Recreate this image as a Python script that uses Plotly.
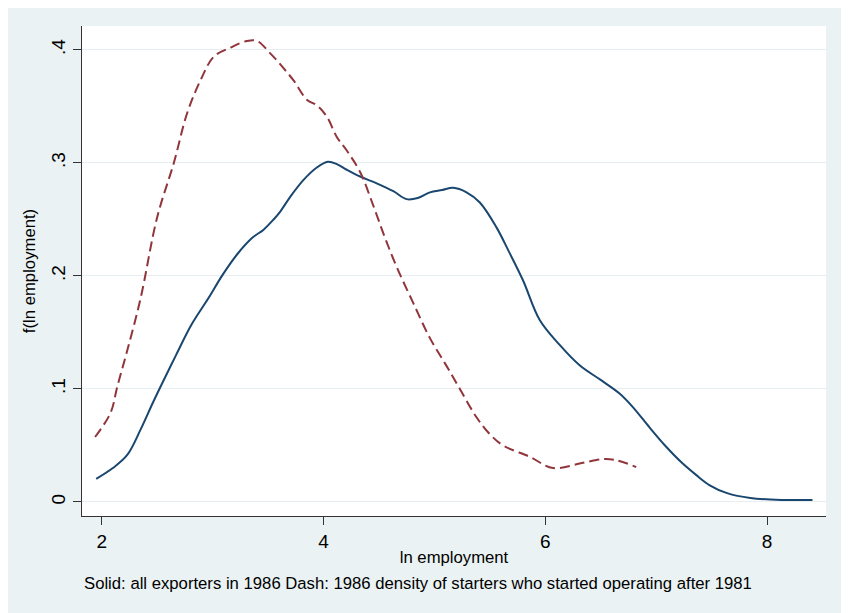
import plotly.graph_objects as go

# kernel density, all exporters in 1986 (solid)
x_all = [1.95, 2.1, 2.23, 2.35, 2.46, 2.53, 2.67, 2.81, 2.96, 3.09, 3.22, 3.36, 3.46, 3.55,
         3.61, 3.7, 3.82, 3.94, 4.04, 4.12, 4.21, 4.33, 4.48, 4.63, 4.75, 4.85, 4.96, 5.07,
         5.17, 5.29, 5.41, 5.56, 5.67, 5.8, 5.95, 6.13, 6.31, 6.5, 6.67, 6.79, 6.94, 7.08,
         7.24, 7.36, 7.48, 7.64, 7.85, 8.14, 8.41]
y_all = [0.0204, 0.03, 0.0416, 0.064, 0.0876, 0.102, 0.13, 0.157, 0.18, 0.201, 0.219, 0.234,
         0.241, 0.25, 0.257, 0.27, 0.285, 0.296, 0.301, 0.299, 0.294, 0.288, 0.282, 0.275,
         0.268, 0.269, 0.274, 0.276, 0.278, 0.274, 0.265, 0.243, 0.222, 0.196, 0.161, 0.139,
         0.121, 0.108, 0.096, 0.084, 0.066, 0.05, 0.034, 0.024, 0.015, 0.0078, 0.0035,
         0.0018, 0.0018]

# starters who started operating after 1981 (dash)
x_new = [1.94, 2.08, 2.14, 2.23, 2.35, 2.5, 2.65, 2.77, 2.89, 3.01, 3.16, 3.31, 3.4, 3.52,
         3.63, 3.73, 3.85, 3.94, 4.03, 4.12, 4.21, 4.33, 4.45, 4.55, 4.66, 4.81, 4.96,
         5.1, 5.23, 5.38, 5.5, 5.62, 5.86, 6.07, 6.31, 6.52, 6.64, 6.82]
y_new = [0.0575, 0.079, 0.102, 0.134, 0.18, 0.252, 0.3, 0.344, 0.373, 0.394, 0.402, 0.408,
         0.408, 0.397, 0.385, 0.373, 0.356, 0.351, 0.341, 0.323, 0.311, 0.292, 0.262, 0.235,
         0.208, 0.176, 0.145, 0.122, 0.1, 0.075, 0.06, 0.05, 0.04, 0.03, 0.034, 0.038,
         0.037, 0.031]

y_ticks = [0, 0.1, 0.2, 0.3, 0.4]
y_labels = ["0", ".1", ".2", ".3", ".4"]
x_ticks = [2, 4, 6, 8]

fig = go.Figure()
fig.add_trace(go.Scatter(x=x_all, y=y_all, mode="lines", line=dict(color="#1a476f", width=2, shape="spline")))
fig.add_trace(go.Scatter(x=x_new, y=y_new, mode="lines",
                         line=dict(color="#90353b", width=2, dash="10px,5px", shape="spline")))

# page body adds an 8px offset, margins account for it
fig.update_layout(
    width=849, height=613,
    margin=dict(l=74, r=31, t=18, b=105),
    paper_bgcolor="#EAF2F3",
    plot_bgcolor="white",
    showlegend=False,
    font=dict(family="Liberation Sans, Arial, sans-serif", color="black"),
    xaxis=dict(
        range=[1.822, 8.532], tickvals=x_ticks, ticks="outside", ticklen=8, tickcolor="#333",
        showline=True, linecolor="#333", linewidth=1, showgrid=False, zeroline=False,
        tickfont=dict(size=19),
        title=dict(text="ln employment", font=dict(size=16.7), standoff=0),
    ),
    yaxis=dict(
        range=[-0.0124, 0.4212], tickvals=y_ticks, ticktext=y_labels, tickangle=-90,
        ticks="outside", ticklen=8, tickcolor="#333",
        showline=True, linecolor="#333", linewidth=1,
        showgrid=True, gridcolor="#E6EEF1", gridwidth=1, zeroline=False,
        tickfont=dict(size=19),
        title=dict(text="f(ln employment)", font=dict(size=16.7), standoff=8),
    ),
    annotations=[dict(
        text="Solid: all exporters in 1986 Dash: 1986 density of starters who started operating after 1981",
        xref="paper", yref="paper", x=0.0, y=-0.138, xanchor="left", yanchor="middle",
        showarrow=False, font=dict(size=16.7),
    )],
)

fig.write_html("out.html")
